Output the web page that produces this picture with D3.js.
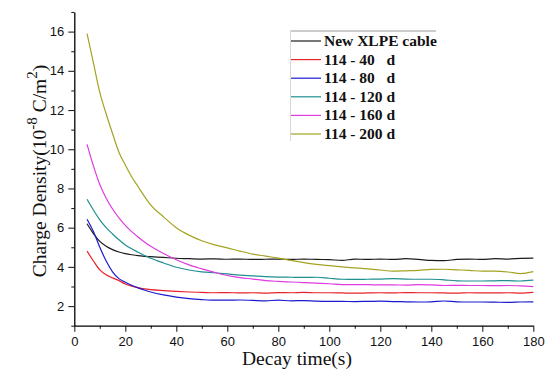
<!DOCTYPE html>
<html>
<head>
<meta charset="utf-8">
<script src="https://cdn.jsdelivr.net/npm/d3@7/dist/d3.min.js"></script>
<style>
  html, body { margin: 0; padding: 0; background: #fff; }
  svg { display: block; }
</style>
</head>
<body>
<svg id="chart" width="555" height="381"></svg>
<script>
// Decay time samples (s)
const time = [5,7.5,10,12.5,15,17.5,20,22.5,25,27.5,30,35,40,45,50,55,60,65,70,75,80,85,90,95,100,105,110,115,120,125,130,135,140,145,150,155,160,165,170,175,180];

// Surface charge density (10^-8 C/m^2) for each cable sample
const newCable = [6.2,5.7,5.3,5.05,4.88,4.76,4.68,4.62,4.57,4.54,4.52,4.48,4.44,4.42,4.4,4.41,4.39,4.4,4.38,4.39,4.4,4.38,4.4,4.38,4.37,4.33,4.4,4.38,4.4,4.38,4.42,4.38,4.33,4.32,4.38,4.4,4.38,4.42,4.4,4.43,4.45];
const d40 = [4.8,4.3,3.85,3.6,3.44,3.3,3.13,3.02,2.94,2.88,2.84,2.79,2.75,2.72,2.7,2.68,2.69,2.67,2.68,2.66,2.69,2.68,2.7,2.68,2.68,2.67,2.66,2.67,2.68,2.67,2.69,2.68,2.68,2.67,2.66,2.68,2.67,2.67,2.68,2.66,2.7];
const d80 = [6.43,5.8,5.0,4.3,3.75,3.4,3.22,3.06,2.93,2.82,2.72,2.57,2.46,2.38,2.33,2.3,2.3,2.31,2.29,2.27,2.3,2.27,2.28,2.25,2.24,2.24,2.23,2.24,2.25,2.23,2.22,2.21,2.22,2.26,2.22,2.21,2.21,2.2,2.19,2.21,2.22];
const d120 = [7.45,6.9,6.4,6.0,5.68,5.38,5.12,4.92,4.75,4.58,4.44,4.2,3.98,3.84,3.75,3.7,3.64,3.58,3.54,3.5,3.48,3.47,3.46,3.47,3.42,3.37,3.36,3.37,3.38,3.4,3.38,3.37,3.37,3.34,3.29,3.28,3.28,3.29,3.3,3.28,3.32];
const d160 = [10.25,9.15,8.2,7.5,6.95,6.5,6.12,5.8,5.52,5.27,5.05,4.68,4.36,4.1,3.9,3.72,3.56,3.45,3.38,3.3,3.26,3.23,3.2,3.17,3.14,3.1,3.09,3.09,3.08,3.08,3.07,3.1,3.08,3.05,3.06,3.05,3.05,3.04,3.05,3.03,2.99];
const d200 = [15.9,14.4,12.9,11.8,10.8,9.85,9.2,8.6,8.1,7.6,7.15,6.55,6.0,5.62,5.33,5.12,4.97,4.8,4.65,4.55,4.45,4.33,4.22,4.13,4.06,4.0,3.95,3.9,3.84,3.78,3.8,3.82,3.87,3.88,3.85,3.82,3.78,3.78,3.74,3.66,3.76];

const seriesNames = ["New XLPE cable", "114 - 40   d", "114 - 80   d", "114 - 120 d", "114 - 160 d", "114 - 200 d"];
const seriesValues = [newCable, d40, d80, d120, d160, d200];
const seriesColors = ["#1c1c1c", "#e8232b", "#1a1ad0", "#1f8f8f", "#e03ae0", "#a3a321"];

const xTicks = [0,20,40,60,80,100,120,140,160,180];
const yTicks = [2,4,6,8,10,12,14,16];

const svg = d3.select("#chart");
const plotLeft = 74.3, plotRight = 533.3, plotTop = 12, plotBottom = 325.7;

const x = d3.scaleLinear().domain([0, 180]).range([plotLeft, plotRight]);
const y = d3.scaleLinear().domain([1, 17]).range([plotBottom, plotTop]);

// Curves
const line = d3.line()
  .x((d, i) => x(time[i]))
  .y(d => y(d))
  .curve(d3.curveMonotoneX);
seriesValues.forEach((vals, k) => {
  svg.append("path")
    .datum(vals)
    .attr("d", line)
    .attr("fill", "none")
    .attr("stroke", seriesColors[k])
    .attr("stroke-width", 1.2)
    .attr("stroke-linejoin", "round");
});

// Axes: major ticks labelled, minor ticks between
const tickFont = "'Liberation Sans', Arial, sans-serif";

const xMinor = d3.range(10, 180, 20);
svg.append("g").attr("transform", `translate(0,${plotBottom})`)
  .call(d3.axisBottom(x).tickValues(xMinor).tickSize(3).tickFormat(""))
  .call(g => g.select(".domain").remove());
const gx = svg.append("g").attr("transform", `translate(0,${plotBottom})`)
  .call(d3.axisBottom(x).tickValues(xTicks).tickSize(6).tickSizeOuter(0).tickPadding(5));

const yMinor = d3.range(1, 18, 2);
svg.append("g").attr("transform", `translate(${plotLeft},0)`)
  .call(d3.axisLeft(y).tickValues(yMinor).tickSize(3).tickFormat(""))
  .call(g => g.select(".domain").remove());
const gy = svg.append("g").attr("transform", `translate(${plotLeft},0)`)
  .call(d3.axisLeft(y).tickValues(yTicks).tickSize(6).tickSizeOuter(0).tickPadding(4));

[gx, gy].forEach(g => {
  g.selectAll("text").attr("font-family", tickFont).attr("font-size", 13).attr("fill", "#111");
  g.select(".domain").attr("stroke-width", 1.3);
});
svg.selectAll(".tick line").attr("stroke-width", 1.1).attr("stroke", "#222");

// Axis titles
const serif = "'Liberation Serif', 'Times New Roman', serif";
svg.append("text")
  .attr("x", 297).attr("y", 365)
  .attr("text-anchor", "middle")
  .attr("font-family", serif).attr("font-size", 19.5)
  .attr("fill", "#111")
  .text("Decay time(s)");

const yTitle = svg.append("text")
  .attr("transform", "translate(46,171) rotate(-90)")
  .attr("text-anchor", "middle")
  .attr("font-family", serif).attr("font-size", 19.5)
  .attr("fill", "#111");
yTitle.append("tspan").text("Charge Density(10");
yTitle.append("tspan").attr("dy", -9).attr("font-size", 15).text("-8");
yTitle.append("tspan").attr("dy", 9).text(" C/m");
yTitle.append("tspan").attr("dy", -9).attr("font-size", 15).text("2");
yTitle.append("tspan").attr("dy", 9).text(")");

// Legend
const lg = svg.append("g");
lg.append("line").attr("x1", 290.5).attr("x2", 436).attr("y1", 31).attr("y2", 31)
  .attr("stroke", "#9a9a9a").attr("stroke-width", 1);
lg.append("line").attr("x1", 290.5).attr("x2", 290.5).attr("y1", 31).attr("y2", 141)
  .attr("stroke", "#d8d8d8").attr("stroke-width", 1);
seriesNames.forEach((name, k) => {
  const cy = 41 + k * 18.6;
  lg.append("line").attr("x1", 291).attr("x2", 321).attr("y1", cy).attr("y2", cy)
    .attr("stroke", seriesColors[k]).attr("stroke-width", 1.2);
  lg.append("text").attr("x", 324).attr("y", cy + 5)
    .attr("font-family", serif).attr("font-weight", "bold").attr("font-size", 15.5)
    .attr("fill", "#111")
    .style("white-space", "pre")
    .text(name);
});
</script>
</body>
</html>
